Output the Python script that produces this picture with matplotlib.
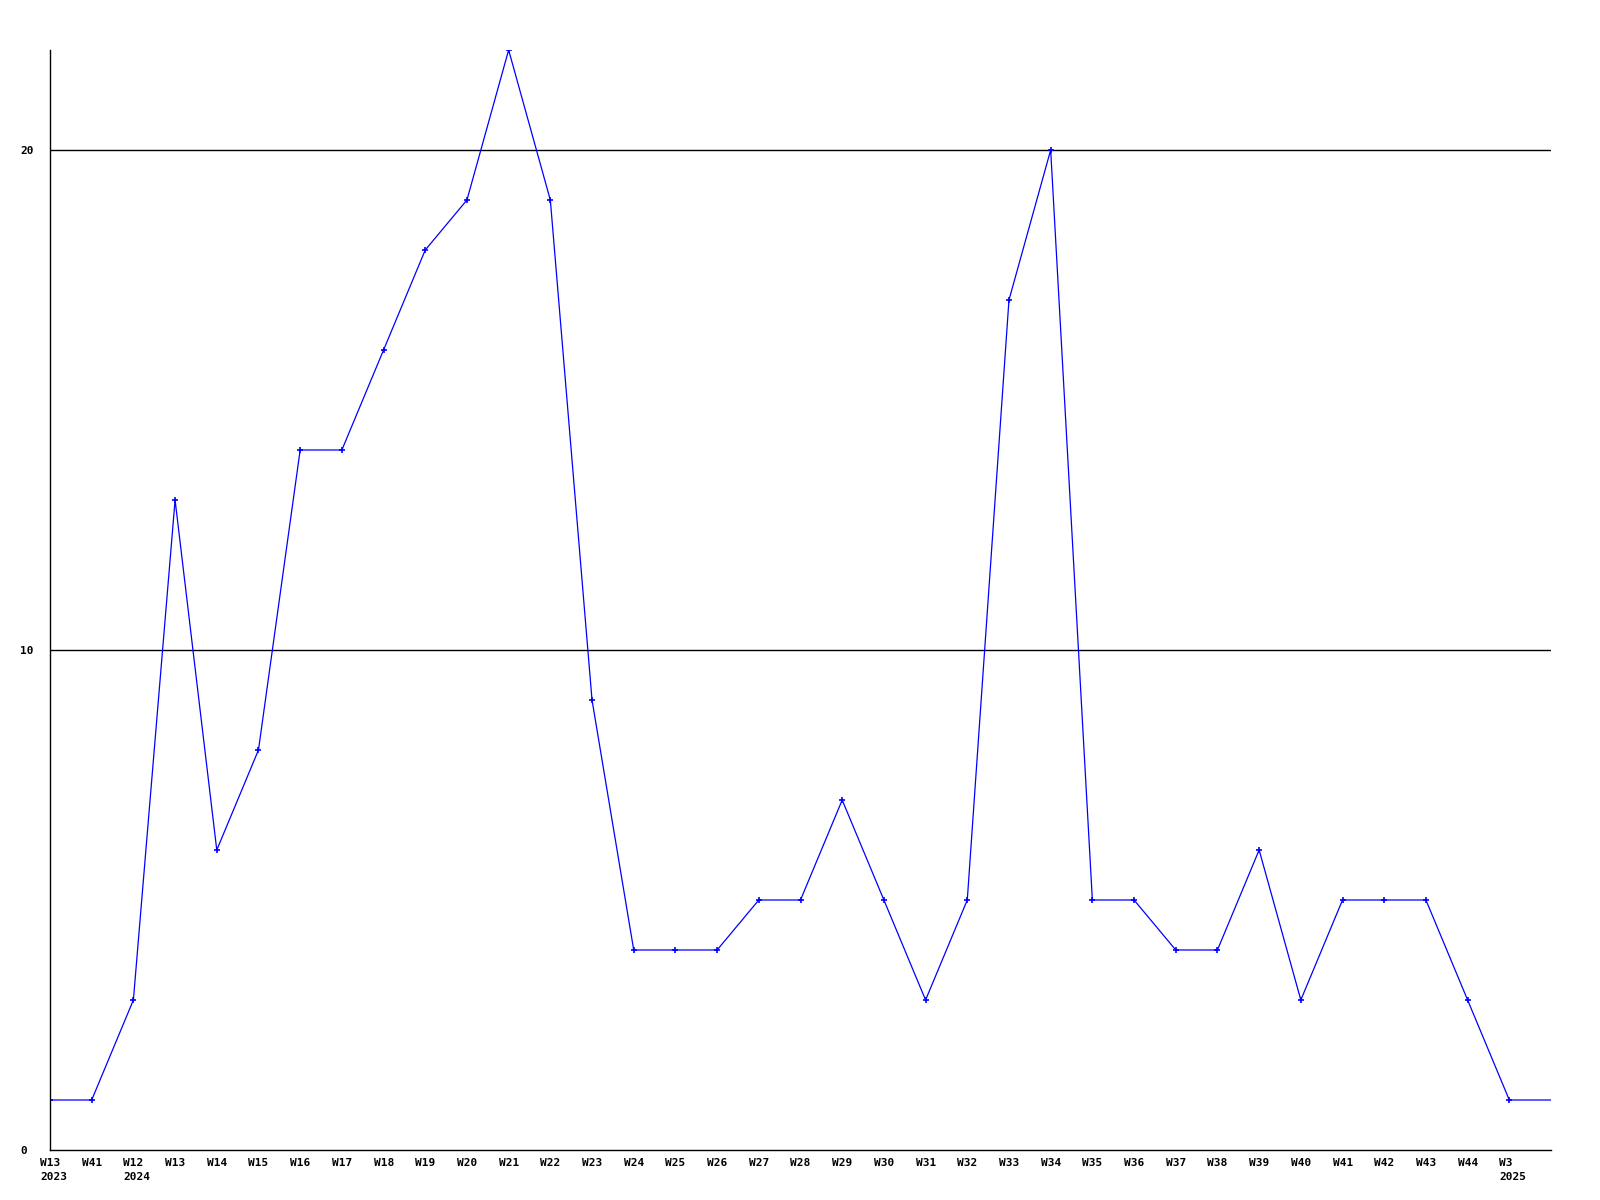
import matplotlib
matplotlib.use('Agg')
import matplotlib.pyplot as plt

# подписи недель и значения
weeks = ['W13\n2023', 'W41', 'W12\n2024', 'W13', 'W14', 'W15', 'W16', 'W17', 'W18',
         'W19', 'W20', 'W21', 'W22', 'W23', 'W24', 'W25', 'W26', 'W27', 'W28', 'W29',
         'W30', 'W31', 'W32', 'W33', 'W34', 'W35', 'W36', 'W37', 'W38', 'W39', 'W40',
         'W41', 'W42', 'W43', 'W44', 'W3\n2025']
values = [1, 1, 3, 13, 6, 8, 14, 14, 16, 18, 19, 22, 19, 9, 4, 4, 4, 5, 5, 7,
          5, 3, 5, 17, 20, 5, 5, 4, 4, 6, 3, 5, 5, 5, 3, 1]
y_ticks = [0, 10, 20]

fig = plt.figure(figsize=(16, 12), dpi=100)
ax = fig.add_axes([50 / 1600, 50 / 1200, 1501 / 1600, 1100 / 1200])

x = list(range(len(values)))
# линия продолжается до правого края на последнем значении
ax.plot(x + [len(values)], values + [values[-1]], color='#0000ff', lw=0.9)
ax.plot(x, values, ls='none', marker='+', ms=4, mew=1.2, color='#0000ff')

for v in [10, 20]:
    ax.axhline(v, color='black', lw=1, zorder=0)

ax.set_xlim(0, len(values))
ax.set_ylim(0, 22)
ax.set_yticks(y_ticks)
ax.set_yticklabels([str(t) for t in y_ticks], fontfamily='DejaVu Sans Mono',
                   fontweight='bold', fontsize=8, ha='left')
ax.set_xticks(x)
ax.set_xticklabels([])
# подписи оси x: левый край на 10 px левее точки
for xi, lab in zip(x, weeks):
    ax.annotate(lab, (xi, 0), xycoords=('data', 'axes fraction'),
                xytext=(-10, -8), textcoords='offset pixels',
                ha='left', va='top', multialignment='left', linespacing=1.5,
                fontfamily='DejaVu Sans Mono', fontweight='bold', fontsize=8,
                annotation_clip=False)

ax.tick_params(length=0)
ax.tick_params(axis='y', pad=21.6)
for side in ['top', 'right']:
    ax.spines[side].set_visible(False)
for side in ['left', 'bottom']:
    ax.spines[side].set_linewidth(1)
    ax.spines[side].set_color('black')

fig.savefig('out.png', dpi=100, facecolor='white')
